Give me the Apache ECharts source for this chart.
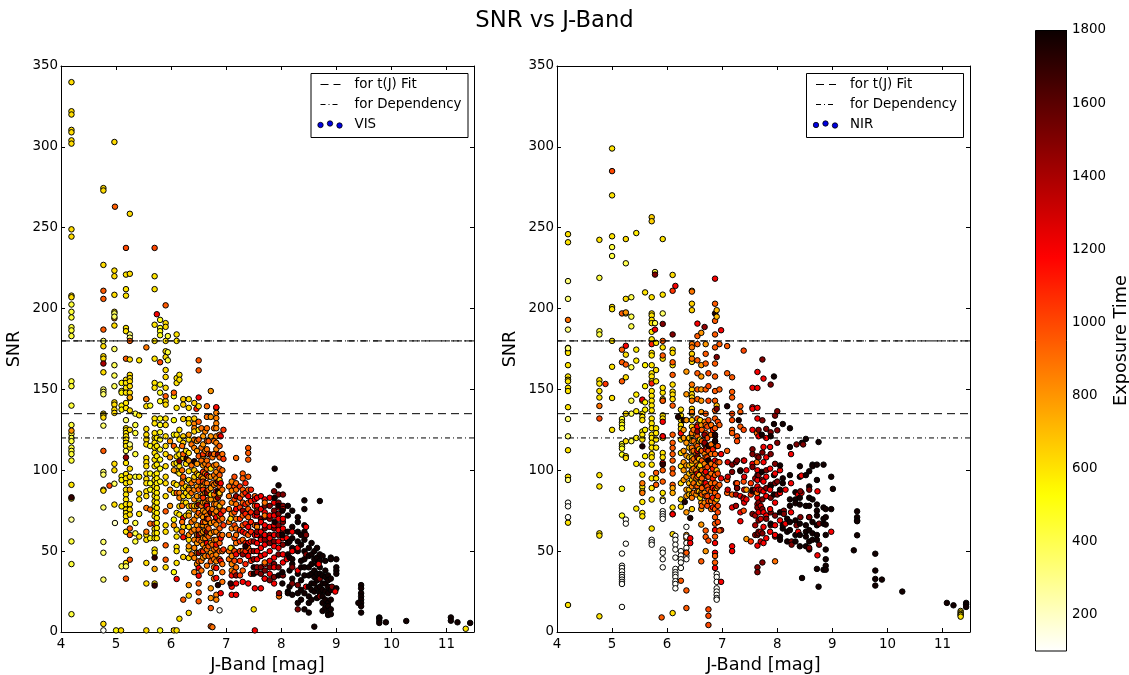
<!DOCTYPE html>
<html>
<head>
<meta charset="utf-8">
<script src="https://cdn.jsdelivr.net/npm/echarts@6/dist/echarts.min.js"></script>
<style>html,body{margin:0;padding:0;background:#fff}#c{width:1129px;height:675px}</style>
</head>
<body>
<div id="c"></div>
<script>
// Each row: [J magnitude, exposure time, [SNR values read at that J]]
const vis4to5 = [
[4.19,620,[340,322,320,310.5,309,304,302,249,244.5,208,207]],
[4.19,430,[202.5,198,194.5,188.5,186.5,183,155,152,140,128,122.5,120,118,114,112,110,106]],
[4.19,800,[124.5]],[4.19,600,[91,82.5]],[4.19,1700,[83.3]],[4.19,280,[69.5]],[4.19,430,[56,42,11]],
[4.77,620,[274.5,273,227,176.7,170.5,169,160.6,135,134,132.6,88,87.4,5]],
[4.77,950,[211,206,187,112]],[4.77,1400,[166]],
[4.77,350,[180,150,148.5,147,127.6,99,97.3,77,55.7,49,32.4]],[4.77,110,[1]],
[4.88,1000,[90.5]],
[4.97,620,[303,223.5,220,208.5,198,189.5,142,140.6,137.5,135.5,104,100,78.8]],
[4.98,940,[263]],[4.97,850,[194]],[4.97,380,[197,195,175,165,158.6,152,91.7]],[4.98,200,[67.4]],[5,550,[1]]
];
const vis5to6 = [
[5.1,560,[154,149,148,140,137.5,96.3,94,77.7]],[5.1,400,[40.6]],[5.09,620,[1]],
[5.18,1000,[237.5]],[5.18,950,[169,33]],
[5.18,600,[221,212,208,188,186,156,154,151,148,141.6,138.5,126,124.7,123,121,119,117,115,104.5,97.7,95,92,88,85,82,79,75.7,73.6,71.5,68.5,62,50.5,42.7]],
[5.18,360,[131,112,40.6]],[5.18,1450,[108]],
[5.25,620,[258.6,221.5,159,157,155,152,148,144.7,137,125,114,101,96,92.6,79,75.7,72.6,168.5]],
[5.25,330,[184,182,116]],[5.25,950,[180,64,60,44.7]],[5.25,750,[145,88]],
[5.35,430,[135,128,123,110,96,67.4,61,56]],
[5.42,600,[168,134,96,85.6,82,73,59]],
[5.55,620,[144,139.6,125.6,122,119,116,107.6,105,102.5,98,94.6,92,87,84,60,57,42.7,30,1]],
[5.55,880,[176,144,76.7,62]],
[5.62,480,[140,115,98,92,88,58]],[5.62,900,[75.7,67]],
[5.7,600,[220,212,190,180,169,154,151,132,129,123,120,117,114,110.7,106.6,102.5,97,94,90,87,84,80.8,77.7,74.6,71.5,63.7,61,58,51,49,30]],
[5.7,1000,[237.5,67]],[5.7,1700,[46,28.7]],[5.7,750,[39]],
[5.74,1200,[196.5]],
[5.74,580,[120,115,108.7,103.5,98,95,92,89,86,83,80,76.7,73.6,70.5,67.4,64.3,61.2,58]],
[5.8,480,[193,188,186,183.5,153,148,142.7,132,128,123.5,119,112.8,106.6,101,93,1]],[5.8,1000,[166.8]],
[5.9,620,[191,188.7,180,173.6,170,162,157.7,151,142.7,140.6,132,128,121,115,110,102.5,96,92,84,66,62,40]],
[5.9,950,[202,145.8,74.6,53.6,44.7]],[5.94,430,[183,173,168]],
[5.98,800,[118,108,88,78]]
];
const vis6to7 = [
[6.05,520,[145.8,131,122,86,69.5,37]],[6.05,950,[148,115]],[6.05,650,[104,92,1]],
[6.1,600,[184,180,157,154,138.6,122,112.8,108.6,104.5,99.4,91,73.6,63.3,59,52.6,50,42.7,1]],
[6.1,950,[86]],[6.1,1150,[32.8]],[6.05,800,[100,66]],
[6.15,600,[159,156,125,119,109.7,102.5,98,77.7,72.6,8.2]],[6.15,1500,[105.6]],[6.15,850,[86,83]],
[6.22,650,[144,140.6,131.7,121,117,107.6,94.6,89,84,80,65,46.4]],[6.22,1150,[70.5,58.6]],[6.22,950,[20,110,96]],
[6.2,900,[115,100,92,78,68,62]],[6.27,620,[112,104,90,86,80,72]],
[6.28,1700,[107]],
[6.32,620,[144,138.6,131.7,129,119,110.7,99.4,94,89,84,77.7,73.6,65,57,51,45.8,22.5,11.8]],
[6.32,800,[29,122,106,88,72,60,53]],[6.37,900,[116,103,92,86,78,68,62,48]],
[6.42,850,[128.9,126,119,113.8,94,88,82,75.7,69.5,63.3,57,52,45.8,37]],
[6.42,1750,[105.6]],[6.42,650,[141.6,132,124,100,96,78]],[6.46,1100,[138]],
[6.47,800,[118,112,104,98,90,84,78,72,66,60,55,49,42]],
[6.5,950,[168,161.8,130,119,108.7,97,93,88,73.6,63.3,57,43.7,30,24.5,19]],
[6.5,1200,[145,39.6,34.8]],[6.5,600,[139.6,125,97,80]],[6.5,1450,[78.8,48.9,60]],
[6.55,900,[126,114,106,96,90,84,78,72,66,61,56,50,44,38]],
[6.58,800,[121,116,109,103,95,90,85,80,75,71,66,62,58,54,46]],[6.58,1050,[110,99,93,88,83,68,50]],
[6.62,850,[124,112,104,98,92,86,80,74,68,63,58,52,47]],
[6.65,900,[139.6,133,126,118,113,106,101,92,87,79,72,65,60,51,41]],[6.65,1500,[86,70,62]],[6.65,1200,[97,78,55]],
[6.68,950,[118,110,103,96,88,82,76,70,64,59,53,47]],
[6.72,800,[149,133,121,96,89,82,73.6,67.4,61,55,48.9,36.5,27,21]],[6.72,1450,[109.7,74]],
[6.72,950,[14.8,3.5,43.7]],[6.72,600,[101,85]],[6.75,900,[3,108,92,76,54,47]],
[6.78,900,[126,118,110,103,97,91,85,79,73,68,62,57,51,45,40,33]],
[6.82,850,[138.6,135.5,132.3,129,126,121,117,113,103.5,99,95,92,82,79,74.6,70.5,66.4,62,57,52,47.8,43.7,23,20]],
[6.82,1150,[139,87,71,54,39.6,33.4]],[6.85,1750,[29,87]],[6.85,1450,[109.7,93,83]],
[6.88,950,[122,115,108,101,97,90,85,77,69,64,60,55,50,45]],[6.88,700,[94,86,78,72]],[6.88,110,[13.4]],
[6.9,1200,[121,92,73,58,44,24]],[6.93,900,[110,100,88,80,70,60,50,42,37,31]],[6.95,1050,[125,107,75,66,51]]
];
const vis7to8 = [
[7.05,900,[90,84,76,68,60,50,45]],[7.1,850,[93,87.4,80,73,64,52,47,42,38]],[7.08,650,[70,52]],[7.1,1150,[35,28,23]],[7.08,1700,[30]],
[7.15,1000,[96,90,82,74,66,58,50,44,37]],
[7.18,900,[107.6,92,88,79,70,64,60,55,40]],[7.18,1450,[84,35]],[7.18,1200,[76,48,30,23]],
[7.25,1050,[90,83,77,70,63,56,50,44,35]],
[7.3,950,[98,95,88,85,80,72,66,57,50,38]],[7.3,1450,[75,48]],[7.3,1200,[62,31]],
[7.35,1100,[92,86,79,73,67,61,55,50,42]],
[7.4,950,[113.8,110.7,106.6,96,88,80,76,71,60,52]],[7.4,1200,[84,65,55,47,30]],[7.35,1750,[53]],
[7.45,1100,[88,81,74,68,62,56,50,44,36]],
[7.52,950,[84,78,66]],[7.52,1200,[82,72,60,27,1]],[7.5,1450,[56,50,45]],[7.5,1750,[40,36]],[7.5,600,[14]],
[7.56,1200,[83,78,72,66,60,55,50,45]],[7.56,850,[75,65]],[7.56,1450,[74,62,40,37]],
[7.63,1500,[70,58,47,40,36]],[7.63,1200,[84,76,68,62,57,52,47,27]],
[7.7,1500,[78,71,64,57,38,33]],[7.7,1200,[82,74,66,60,54,48,42,33]],[7.7,900,[80,72,43]],
[7.79,1500,[78,70,60,55,40,32]],[7.79,1200,[83,72,65,58,50,44,36]],
[7.87,1500,[87,75,64,56,42,34]],[7.87,1200,[80,72,66,60,53,46,40,30]],[7.88,1780,[101,83,68]],
[7.95,1500,[85,80,73,66,60,48,40]],[7.95,1200,[77,70,63,56,52]],[7.95,1780,[90.7,78,35]],[7.96,900,[22]],[7.96,1450,[24]]
];
const vis8up = [
[8.03,1500,[85,78,68,62,54,35]],[8.03,1200,[76,70,64,58,48,43]],[8.02,1780,[75,60,37,30]],
[8.1,1200,[58,45]],[8.12,1780,[78,72,62,55,48,25,24]],[8.15,1780,[56,46,38,28]],
[8.2,1780,[75,65,58,52,45,42,33,23]],[8.2,1200,[50,62]],[8.2,1500,[40,30]],
[8.3,1780,[71,68,62,56,50,36,24,18]],[8.3,1500,[29,14]],[8.3,1200,[52,38]],
[8.36,1780,[60,54,44,40,32,26,20]],
[8.42,1780,[81.4,76,66,62,57,50,45,40,35,24,14]],[8.45,1200,[65,28]],[8.45,1500,[60,48]],
[8.5,1780,[52,47,40,35,28,22,18,12]],[8.55,1780,[55,48,42,36,30,26,20]],
[8.6,1780,[50,45,38,34,30,25,3.3]],[8.65,1780,[52,46,42,36,32,27,21]],
[8.7,1780,[81,48,44,40,36,28,24]],[8.7,1500,[22,33]],[8.68,1200,[42]],
[8.75,1780,[47,35,30,26,22,18,13]],[8.8,1780,[44,38,34,30,25,20,15]],
[8.85,1780,[35,32,28,24,18,12,10.5,16]],
[8.9,1780,[46,45,33,26,20,11,14]],[8.92,1500,[28]],
[9,1780,[45,40,38,36,27]],[8.98,1200,[25]],
[9.45,1780,[29,27,24,22,20,18,16,12]],[9.4,1780,[18]],
[9.78,1780,[9,8.5,7,5.6]],[9.9,1780,[6]],[10.27,1780,[6.8]],
[11.08,1780,[9,7]],[11.2,1780,[6]],[11.43,1780,[5.6]],[11.35,600,[2]]
];

const nir4to5 = [
[4.2,600,[246,241,139,112.4,175.7,173.6,172.6,165,158,156,155,151,149,96,67.6,16.7]],
[4.2,330,[217,206,187,175.5,131.7,121,94]],[4.2,900,[193]],[4.2,110,[80,77.7,71]],
[4.77,600,[242.5,155.7,153.6,149,145,97,90,61,59.6,9.7]],[4.77,420,[219,186,184]],
[4.77,900,[139.8]],[4.77,1000,[132]],[4.88,1050,[153.4]],
[5,600,[299,270,244.7,164,144.7,125,201,199.6,180]],[5,1000,[285]],[5,420,[238,232.5]]
];
const nir5to6 = [
[5.18,950,[197,174.6,166.8,155]],[5.25,620,[243,206]],[5.25,400,[228,197]],[5.25,800,[197.6]],
[5.18,480,[131.7,129.7,128.2,126,116.3,114.8,113.4,109.7,88.6,72]],
[5.18,110,[48.5,41,39.6,37.5,35.4,34,32.4,31,29.7,15.5]],
[5.25,1200,[177]],[5.25,620,[171.5,157.5,135,118,108.7,107.6]],[5.25,950,[165.4]],[5.25,110,[69.5,67,54.6]],
[5.35,400,[195,189,207,163.7,143,135,118]],
[5.44,580,[246.7,174.6,167.8,146.8,136.5,120,104,76.3]],[5.6,600,[210]],
[5.55,600,[143,135,133,131,124,122,119,103.5,97.3,89.7,87,80.4,73.6,71.5]],
[5.55,1200,[143.7]],[5.55,1750,[114.8]],[5.55,880,[92,86]],
[5.6,560,[165,152,142,137.5,125,108.7]],
[5.72,650,[256.5,254]],
[5.72,600,[207,197,195.7,193,191,185.6,181,172.6,171,165,160,158,155,149,146,143,140,137,132,129,126,122,120,117,114,110,108,103.5,95,89,81.9,64]],
[5.72,1100,[178,153.7]],[5.72,110,[57,55.5,54]],
[5.78,420,[222.6,191]],[5.78,1500,[221]],[5.78,1200,[187]],
[5.8,600,[178.8,162,155,126,123,119,114,95]],[5.8,950,[98.4,91]],
[5.92,600,[243,208.6,176,169,148,151,144,143,134,132,121,120,110.7,108,104,86,82]],[5.92,360,[197]],
[5.92,950,[171,180,143,100,93]],[5.92,1500,[190.5]],[5.92,1200,[130,121,104.5]],[5.92,1700,[103.5]],
[5.92,110,[81,74.7,73,71.5,70,51,49,45,40]],[5.9,950,[9]]
];
const nir6to7 = [
[6.1,620,[220.8,174.6,172.6,165,153,148.6,146.8,144,77,73,60.5,11.7]],[6.1,1050,[211]],[6.15,1200,[214]],
[6.1,1500,[184]],[6.1,950,[166.8,159,140,122,117,113.8,110,106,101,98,91]],[6.1,750,[89,86]],[6.1,1200,[72.8]],
[6.15,110,[59.4,57,54,51,46,39,37,35.5,34,31.4,29.7,27]],
[6.25,620,[137.5,134,131,128,125.6,119,110.7,102.5,92,82,77.5]],[6.25,1150,[122.9]],[6.25,110,[50,47.3,45,43,39.6]],[6.25,950,[31.7]],
[6.2,1750,[133]],[6.3,1750,[131]],[6.32,1750,[80.4]],[6.42,1750,[70.5]],
[6.3,800,[125,120,112,105,100,94]],
[6.35,800,[161,147,131,117,109,103,96,88,84,74,60,58]],[6.35,110,[65,59,55,52,49,47,45]],[6.35,950,[25.7,14.8,49]],
[6.4,700,[120,114,108,103,98,92,88,85]],
[6.45,650,[211,203,199,172,167,150,147,145,138,135,131,127,122,118,112,108,104,99,94,85,76]],
[6.45,880,[210.5,178,176,169,153,143,136,123,114,106,100,90,83]],[6.42,1200,[58,55]],
[6.48,900,[125,118,112,107,101,96,92,86]],[6.53,800,[122,116,110,105,100,95,90,85]],
[6.55,950,[183,178,168,160,150,144,132,128,121,115,109,103,96,90,87]],[6.55,1200,[190.7,127,112,98]],[6.55,1450,[124,108]],
[6.58,700,[118,113,107,102,97,92,87]],
[6.62,800,[185,165,158,150,143,136,128,118,112,105,100,93,86,80,76,66.4]],[6.62,950,[43.7]],[6.6,620,[131,119,103,83]],
[6.63,950,[125,118,112,106,100,95,89,85,78]],[6.68,850,[130,122,116,110,104,98,92,86,80]],
[6.7,950,[172,166,150,135,128,123,116,108,101,91,84,62.7,58.8]],[6.68,1450,[188.6,122,117]],[6.7,1200,[113,99,92]],[6.7,800,[178,50]],
[6.73,1000,[127,120,114,108,102,96,90,84,78]],
[6.75,1000,[160,152,143,131,112,106,96,88,81,56.5,14,10,4.3]],[6.75,1750,[115,106]],
[6.8,900,[128,122,116,110,104,98,92,87,81,76]],[6.83,1100,[125,113,101,95,89,83,77]],
[6.87,1200,[218.5,121,106,88,55,63,39.6,49]],[6.87,950,[203,192.4,184,176,166,158,149,143,137,132,126,118,110,103,97,92,86,80,76,71,67,59,47,43]],
[6.87,1750,[197,122,118]],[6.9,700,[199,195,140,115,100,89,82]],[6.9,1500,[170,138]],
[6.9,110,[36,34,31,27,25,23,21,20]],[6.98,1200,[63,31,186.6,110,95]],
[6.92,1000,[130,115,105,98,90,84,78,74,68]],
[6.95,950,[178,150,128,105,91,62.7]]
];
const nir7to8 = [
[7.09,950,[176.8,160,112,94,86]],[7.09,1750,[139.6]],[7.1,1300,[105,96,88]],[7.18,950,[157.5,148.5,145,125,123,85]],[7.18,1000,[135,131]],
[7.18,1200,[53,50,77]],[7.18,1500,[103.5,99]],[7.25,1400,[105,92,85,78]],[7.27,1000,[121,118,92,89]],[7.27,1500,[106,89]],[7.3,1750,[131]],
[7.33,950,[139.6,136,127,100]],[7.33,1750,[99.5]],[7.33,1200,[84,68.5,74]],
[7.39,1000,[174,125,106,93,75]],[7.39,1200,[83,82]],[7.4,1250,[106,96,88,80]],[7.44,800,[57.5,88]],[7.44,1200,[100,82]],
[7.52,1050,[56,92,85]],[7.55,1200,[151,139,125,104,138]],[7.55,1500,[113,110,102,87,73]],[7.55,1750,[88]],
[7.6,1400,[95,88,72,66,60]],
[7.64,1200,[160.8,150.9,138.6,132,108.7,53.4,83,79,90,100,94]],[7.64,1500,[60,40,37,86,97,77]],
[7.63,900,[123,105,86]],[7.66,1200,[121,88,74,62]],[7.66,1500,[125,108,97,80,69,61]],
[7.7,1300,[88,78,70,62,56]],
[7.73,1500,[168.5,130.9,111,94,82,76,61,43]],[7.75,1200,[156.7,114.4,105,93,87,74,65,55]],[7.72,1780,[122,99]],
[7.8,1200,[120,108,96,84,72,58]],[7.8,1500,[125.6,100,89,70]],[7.88,1500,[153,123.5,110,91,83,74,66]],[7.88,1780,[121,90,67]],
[7.87,1200,[114.4,101,88,76,62]],[7.94,1780,[158,128.6,97,85]],[7.96,900,[43.7]],[7.96,1500,[133.8,104,92,72,59]],[7.96,1200,[98,80,66,60]]
];
const nir8up = [
[8,1500,[136.5,124.7,117,93,85]],[8.05,1200,[100,86,69]],[8.05,1780,[103,88,74,59,57]],
[8.1,1780,[128.6,95,92,64,66]],[8.12,1500,[75,73]],[8.15,1200,[67,88]],
[8.18,1780,[70,62,56]],
[8.23,1780,[126,114.4,97,82,78,68,63]],[8.25,1200,[110,92,74]],[8.26,1500,[56,54]],
[8.33,1780,[86.4,82,79.6,69,60,56]],[8.35,1500,[116,66]],[8.38,1200,[62,85]],
[8.41,1780,[102.5,96,83,78.8,67,60,53]],[8.44,1200,[96.7,86]],[8.45,1780,[33.4,117]],[8.42,1500,[71,87]],
[8.47,1500,[116]],[8.52,1780,[119.4,97,78,66,62,59,53]],
[8.58,1780,[99.4,90,83,78,71,63,56,51]],[8.58,1500,[71,52,88]],
[8.64,1780,[103.5,102.5,82,68,61,57]],[8.72,1780,[103.5,94,78.8,75,72,66,60,57,39]],[8.73,1200,[47.4,87]],
[8.75,1780,[117.5,28]],[8.76,1500,[67,54]],[8.84,1780,[103.5,77,67,70,38.5]],
[8.88,1780,[76,71,66.4,60,51,45,41,38.5]],[8.98,1780,[96,76]],[8.98,1200,[62]],[9.01,1780,[88.5]],
[9.39,1780,[50.5]],[9.45,1780,[74.6,71,69,68.5,59.8]],
[9.78,1780,[48.4,38,32.8,28.7]],[9.9,1780,[32.4]],[10.27,1780,[25]],
[11.08,1780,[18]],[11.2,1780,[16.5]],[11.43,1780,[18,17,15.5]],[11.33,600,[13,12,11,10.5,9.5]]
];
const fitLevels = [180, 135];
const dependencyLevels = [180, 120];
const yTicks = [0,350];
const jRange = [4, 11.5];
const jTicks = [4,5,6,7,8,9,10,11];
const colorbarTicks = [200,400,600,800,1000,1200,1400,1600,1800];
const exposureRange = [100, 1800];
const panelNames = ['VIS','NIR'];

function flatten(groups){
  const out=[];
  groups.forEach(g=>g.forEach(r=>r[2].forEach(s=>out.push([r[0],s,r[1]]))));
  return out;
}
const visPoints = flatten([vis4to5,vis5to6,vis6to7,vis7to8,vis8up]);
const nirPoints = flatten([nir4to5,nir5to6,nir6to7,nir7to8,nir8up]);

// matplotlib "hot_r" colormap
function hotR(s){ // s 0..1 from low to high value
  const h=1-s;
  const r=h<0.365?0.0416+h*(1-0.0416)/0.365:1;
  const g=h<0.365?0:h<0.746?(h-0.365)/(0.746-0.365):1;
  const b=h<0.746?0:(h-0.746)/(1-0.746);
  return `rgb(${Math.round(r*255)},${Math.round(g*255)},${Math.round(b*255)})`;
}
const rampLow2High=[];
for(let i=0;i<=60;i++) rampLow2High.push(hotR(i/60));
const gradientStops=rampLow2High.map((c,i)=>({offset:1-i/60,color:c}));

const FONT='DejaVu Sans';
const tickStyle={color:'#000',fontFamily:FONT,fontSize:13.4};
const lineAxis={show:true,onZero:false,lineStyle:{color:'#000',width:1}};
const panels=[{left:61},{left:557}];
const W=413,H=566,TOP=66;

const grid=[],xAxis=[],yAxis=[],series=[],graphic=[];
panels.forEach((p,i)=>{
  grid.push({left:p.left,top:TOP,width:W,height:H,containLabel:false,outerBoundsMode:'none'});
  xAxis.push({gridIndex:i,type:'value',min:jRange[0],max:jRange[1],interval:1,position:'bottom',
    name:'J-Band [mag]',nameLocation:'middle',nameGap:24,nameTextStyle:{color:'#000',fontFamily:FONT,fontSize:17.7},
    axisLine:lineAxis,axisTick:{show:true,inside:true,length:4,lineStyle:{color:'#000'},customValues:jTicks},
    axisLabel:{...tickStyle,margin:6,customValues:jTicks},splitLine:{show:false}});
  xAxis.push({gridIndex:i,type:'value',min:jRange[0],max:jRange[1],interval:1,position:'top',
    axisLine:lineAxis,axisTick:{show:true,inside:true,length:4,lineStyle:{color:'#000'},customValues:jTicks},
    axisLabel:{show:false},splitLine:{show:false}});
  yAxis.push({gridIndex:i,type:'value',min:yTicks[0],max:yTicks[1],interval:50,position:'left',
    name:'SNR',nameLocation:'middle',nameGap:38,nameTextStyle:{color:'#000',fontFamily:FONT,fontSize:17.7},
    axisLine:lineAxis,axisTick:{show:true,inside:true,length:4,lineStyle:{color:'#000'}},
    axisLabel:{...tickStyle,margin:3},splitLine:{show:false}});
  yAxis.push({gridIndex:i,type:'value',min:yTicks[0],max:yTicks[1],interval:50,position:'right',
    axisLine:lineAxis,axisTick:{show:true,inside:true,length:4,lineStyle:{color:'#000'}},
    axisLabel:{show:false},splitLine:{show:false}});
});
[visPoints,nirPoints].forEach((pts,i)=>{
  series.push({name:panelNames[i],type:'scatter',xAxisIndex:i*2,yAxisIndex:i*2,data:pts,symbol:'circle',symbolSize:5.5,
    itemStyle:{borderColor:'#000',borderWidth:1,opacity:1},silent:true,animation:false,clip:true,z:2});
});
const scatterIdx=[0,1];
[0,1].forEach(i=>{
  fitLevels.forEach(l=>series.push({name:'for t(J) Fit',type:'line',xAxisIndex:i*2,yAxisIndex:i*2,
    data:[[jRange[0],l],[jRange[1],l]],symbol:'none',animation:false,silent:true,z:3,
    lineStyle:{color:'#000',width:1,type:[8,5]}}));
  dependencyLevels.forEach(l=>series.push({name:'for Dependency',type:'line',xAxisIndex:i*2,yAxisIndex:i*2,
    data:[[jRange[0],l],[jRange[1],l]],symbol:'none',animation:false,silent:true,z:3,
    lineStyle:{color:'#000',width:1,type:[5,3,1,3]}}));
});

// colour bar: third grid
grid.push({left:1035,top:30,width:32,height:621,outerBoundsMode:'none'});
xAxis.push({gridIndex:2,type:'category',data:['Exposure'],axisLine:{show:false},axisTick:{show:false},axisLabel:{show:false}});
yAxis.push({gridIndex:2,type:'value',min:exposureRange[0],max:exposureRange[1],position:'right',
  name:'Exposure Time',nameLocation:'middle',nameGap:45,nameRotate:90,nameTextStyle:{color:'#000',fontFamily:FONT,fontSize:17.7},
  axisLine:{show:false},splitLine:{show:false},
  axisTick:{show:true,inside:true,length:4,lineStyle:{color:'#000'},customValues:colorbarTicks},
  axisLabel:{...tickStyle,margin:5,customValues:colorbarTicks,formatter:v=>String(v)}});
series.push({type:'bar',xAxisIndex:4,yAxisIndex:4,data:[exposureRange[1]],barWidth:'100%',silent:true,animation:false,
  itemStyle:{borderColor:'#000',borderWidth:1,color:{type:'linear',x:0,y:0,x2:0,y2:1,colorStops:gradientStops}}});

// legends (matplotlib style box)
panels.forEach((p,i)=>{
  const bx=p.left+250-(i?0.5:0), by=73.5;
  graphic.push({type:'rect',shape:{x:bx,y:by,width:157,height:64},style:{fill:'#fff',stroke:'#000',lineWidth:1},z:50});
  const lx=bx+9.5,tx=bx+43.5;
  graphic.push({type:'line',shape:{x1:lx,y1:84.5,x2:lx+20,y2:84.5},style:{stroke:'#000',lineWidth:1,lineDash:[8,5]},z:51});
  graphic.push({type:'line',shape:{x1:lx,y1:104.5,x2:lx+20,y2:104.5},style:{stroke:'#000',lineWidth:1,lineDash:[5,3,1,3]},z:51});
  [[0,125],[9.5,123.5],[19,125.5]].forEach(d=>graphic.push({type:'circle',shape:{cx:lx+d[0],cy:d[1],r:2.7},style:{fill:'#0000e0',stroke:'#000',lineWidth:0.8},z:51}));
  ['for t(J) Fit','for Dependency',panelNames[i]].forEach((t,k)=>graphic.push({type:'text',x:tx,y:85+k*20,
    style:{text:t,fill:'#000',font:`13.4px "${FONT}"`,textVerticalAlign:'middle',textBaseline:'middle'},z:51}));
});

const chart=echarts.init(document.getElementById('c'),null,{renderer:'canvas'});
chart.setOption({
  animation:false,backgroundColor:'#fff',
  title:{text:'SNR vs J-Band',left:549.5,top:5,textAlign:'center',textStyle:{color:'#000',fontFamily:FONT,fontSize:22.7,fontWeight:'normal'}},
  visualMap:{show:false,type:'continuous',min:exposureRange[0],max:exposureRange[1],dimension:2,seriesIndex:scatterIdx,inRange:{color:rampLow2High}},
  grid,xAxis,yAxis,series,graphic
});
</script>
</body>
</html>
